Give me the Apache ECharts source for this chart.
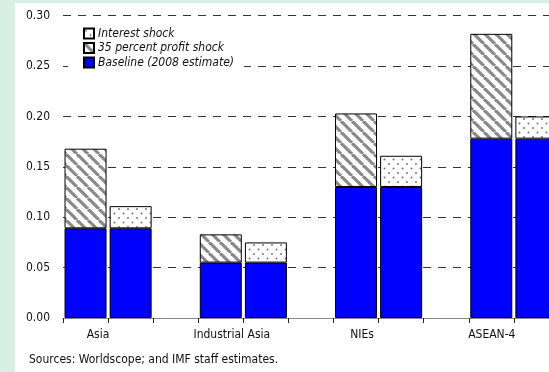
<!DOCTYPE html>
<html>
<head>
<meta charset="utf-8">
<script src="https://cdn.jsdelivr.net/npm/echarts@6/dist/echarts.min.js"></script>
<style>
  html, body { margin: 0; padding: 0; }
  body { width: 549px; height: 372px; background: #d7efe5; position: relative; overflow: hidden; }
  #panel { position: absolute; left: 15px; top: 3px; width: 534px; height: 369px; background: #ffffff; }
  #chart { position: absolute; left: 0; top: 0; width: 620px; height: 372px; }
</style>
</head>
<body>
<div id="panel"></div>
<div id="chart"></div>
<script>
// ---- data ----
const categories = ['Asia', 'Industrial Asia', 'NIEs', 'ASEAN-4'];
const baseline = [0.089, 0.055, 0.130, 0.178];          // Baseline (2008 estimate)
const profitShockTotal = [0.168, 0.083, 0.203, 0.282];  // baseline + 35 percent profit shock
const interestShockTotal = [0.111, 0.075, 0.161, 0.200]; // baseline + interest shock
const yTicks = [0, 0.05, 0.10, 0.15, 0.20, 0.25, 0.30];
const sourceNote = 'Sources: Worldscope; and IMF staff estimates.';

// Each category occupies three slots: profit bar, interest bar, empty gap.
const slots = [];
const baseSlots = [], profitSlots = [], interestSlots = [];
categories.forEach((c, i) => {
  slots.push(c + '|p', c + '|i', c + '|gap');
  baseSlots.push(baseline[i], baseline[i], null);
  profitSlots.push(+(profitShockTotal[i] - baseline[i]).toFixed(4), null, null);
  interestSlots.push(null, +(interestShockTotal[i] - baseline[i]).toFixed(4), null);
});

// patterns
function hatch() {
  const s = 11, c = document.createElement('canvas');
  c.width = s; c.height = s;
  const g = c.getContext('2d');
  g.fillStyle = '#ffffff'; g.fillRect(0, 0, s, s);
  g.strokeStyle = '#8a8a8a'; g.lineWidth = 3.2;
  for (let k = -1; k <= 1; k++) {
    g.beginPath(); g.moveTo(k * s, 0); g.lineTo(k * s + s, s); g.stroke();
  }
  return c;
}
function dots() {
  const s = 9, c = document.createElement('canvas');
  c.width = s; c.height = s;
  const g = c.getContext('2d');
  g.fillStyle = '#ffffff'; g.fillRect(0, 0, s, s);
  g.fillStyle = '#707070';
  [[2, 2], [6.5, 6.5]].forEach(p => { g.beginPath(); g.arc(p[0], p[1], 0.95, 0, Math.PI * 2); g.fill(); });
  return c;
}

const FONT = "'Liberation Sans Narrow', 'DejaVu Sans Condensed', 'Arial Narrow', sans-serif";
const labelShift = { 'Asia': 25, 'Industrial Asia': 22, 'NIEs': 12, 'ASEAN-4': 1 };
const rich = {};
categories.forEach((c, i) => {
  rich['c' + i] = { padding: [0, 0, 0, labelShift[c]], fontFamily: FONT, fontSize: 12, color: '#111' };
});

const chart = echarts.init(document.getElementById('chart'), null, { renderer: 'canvas' });
chart.setOption({
  backgroundColor: 'transparent',
  animation: false,
  textStyle: { fontFamily: FONT },
  grid: { left: 63, top: 15.7, width: 541, height: 302.3, containLabel: false },
  title: {
    text: sourceNote, left: 24, top: 349,
    textStyle: { fontFamily: FONT, fontSize: 12, fontWeight: 'normal', color: '#111' }
  },
  legend: {
    orient: 'vertical', left: 68, top: 23,
    padding: [4, 10, 3, 15],
    backgroundColor: '#ffffff',
    icon: 'rect',
    itemWidth: 10, itemHeight: 10, itemGap: 1.5,
    data: ['Interest shock', '35 percent profit shock', 'Baseline (2008 estimate)'],
    textStyle: { fontFamily: FONT, fontSize: 12, fontStyle: 'italic', color: '#111', lineHeight: 13, padding: [0, 0, 0, -1] }
  },
  xAxis: {
    type: 'category', data: slots, boundaryGap: true,
    axisLine: { show: true, lineStyle: { color: '#888', width: 1 } },
    axisTick: { show: true, interval: 0, length: 5, lineStyle: { color: '#222' } },
    axisLabel: {
      interval: (idx) => idx % 3 === 0,
      margin: 11,
      formatter: (v) => { const name = v.split('|')[0]; return '{c' + categories.indexOf(name) + '|' + name + '}'; },
      rich: rich
    },
    splitLine: { show: false }
  },
  yAxis: {
    type: 'value', min: yTicks[0], max: yTicks[yTicks.length - 1], interval: 0.05,
    axisLine: { show: false }, axisTick: { show: false },
    axisLabel: { formatter: (v) => v.toFixed(2), margin: 13, fontFamily: FONT, fontSize: 12, color: '#111' },
    splitLine: { show: true, lineStyle: { color: '#333', width: 1, type: [8, 7] } }
  },
  series: [
    {
      name: 'Baseline (2008 estimate)', type: 'bar', stack: 'all', data: baseSlots,
      barWidth: 42,
      itemStyle: { color: '#0000ff', borderColor: '#000', borderWidth: 1 }
    },
    {
      name: '35 percent profit shock', type: 'bar', stack: 'all', data: profitSlots,
      barWidth: 42,
      itemStyle: { color: { image: hatch(), repeat: 'repeat' }, borderColor: '#000', borderWidth: 1 }
    },
    {
      name: 'Interest shock', type: 'bar', stack: 'all', data: interestSlots,
      barWidth: 42,
      itemStyle: { color: { image: dots(), repeat: 'repeat' }, borderColor: '#000', borderWidth: 1 }
    }
  ]
});
</script>
</body>
</html>
